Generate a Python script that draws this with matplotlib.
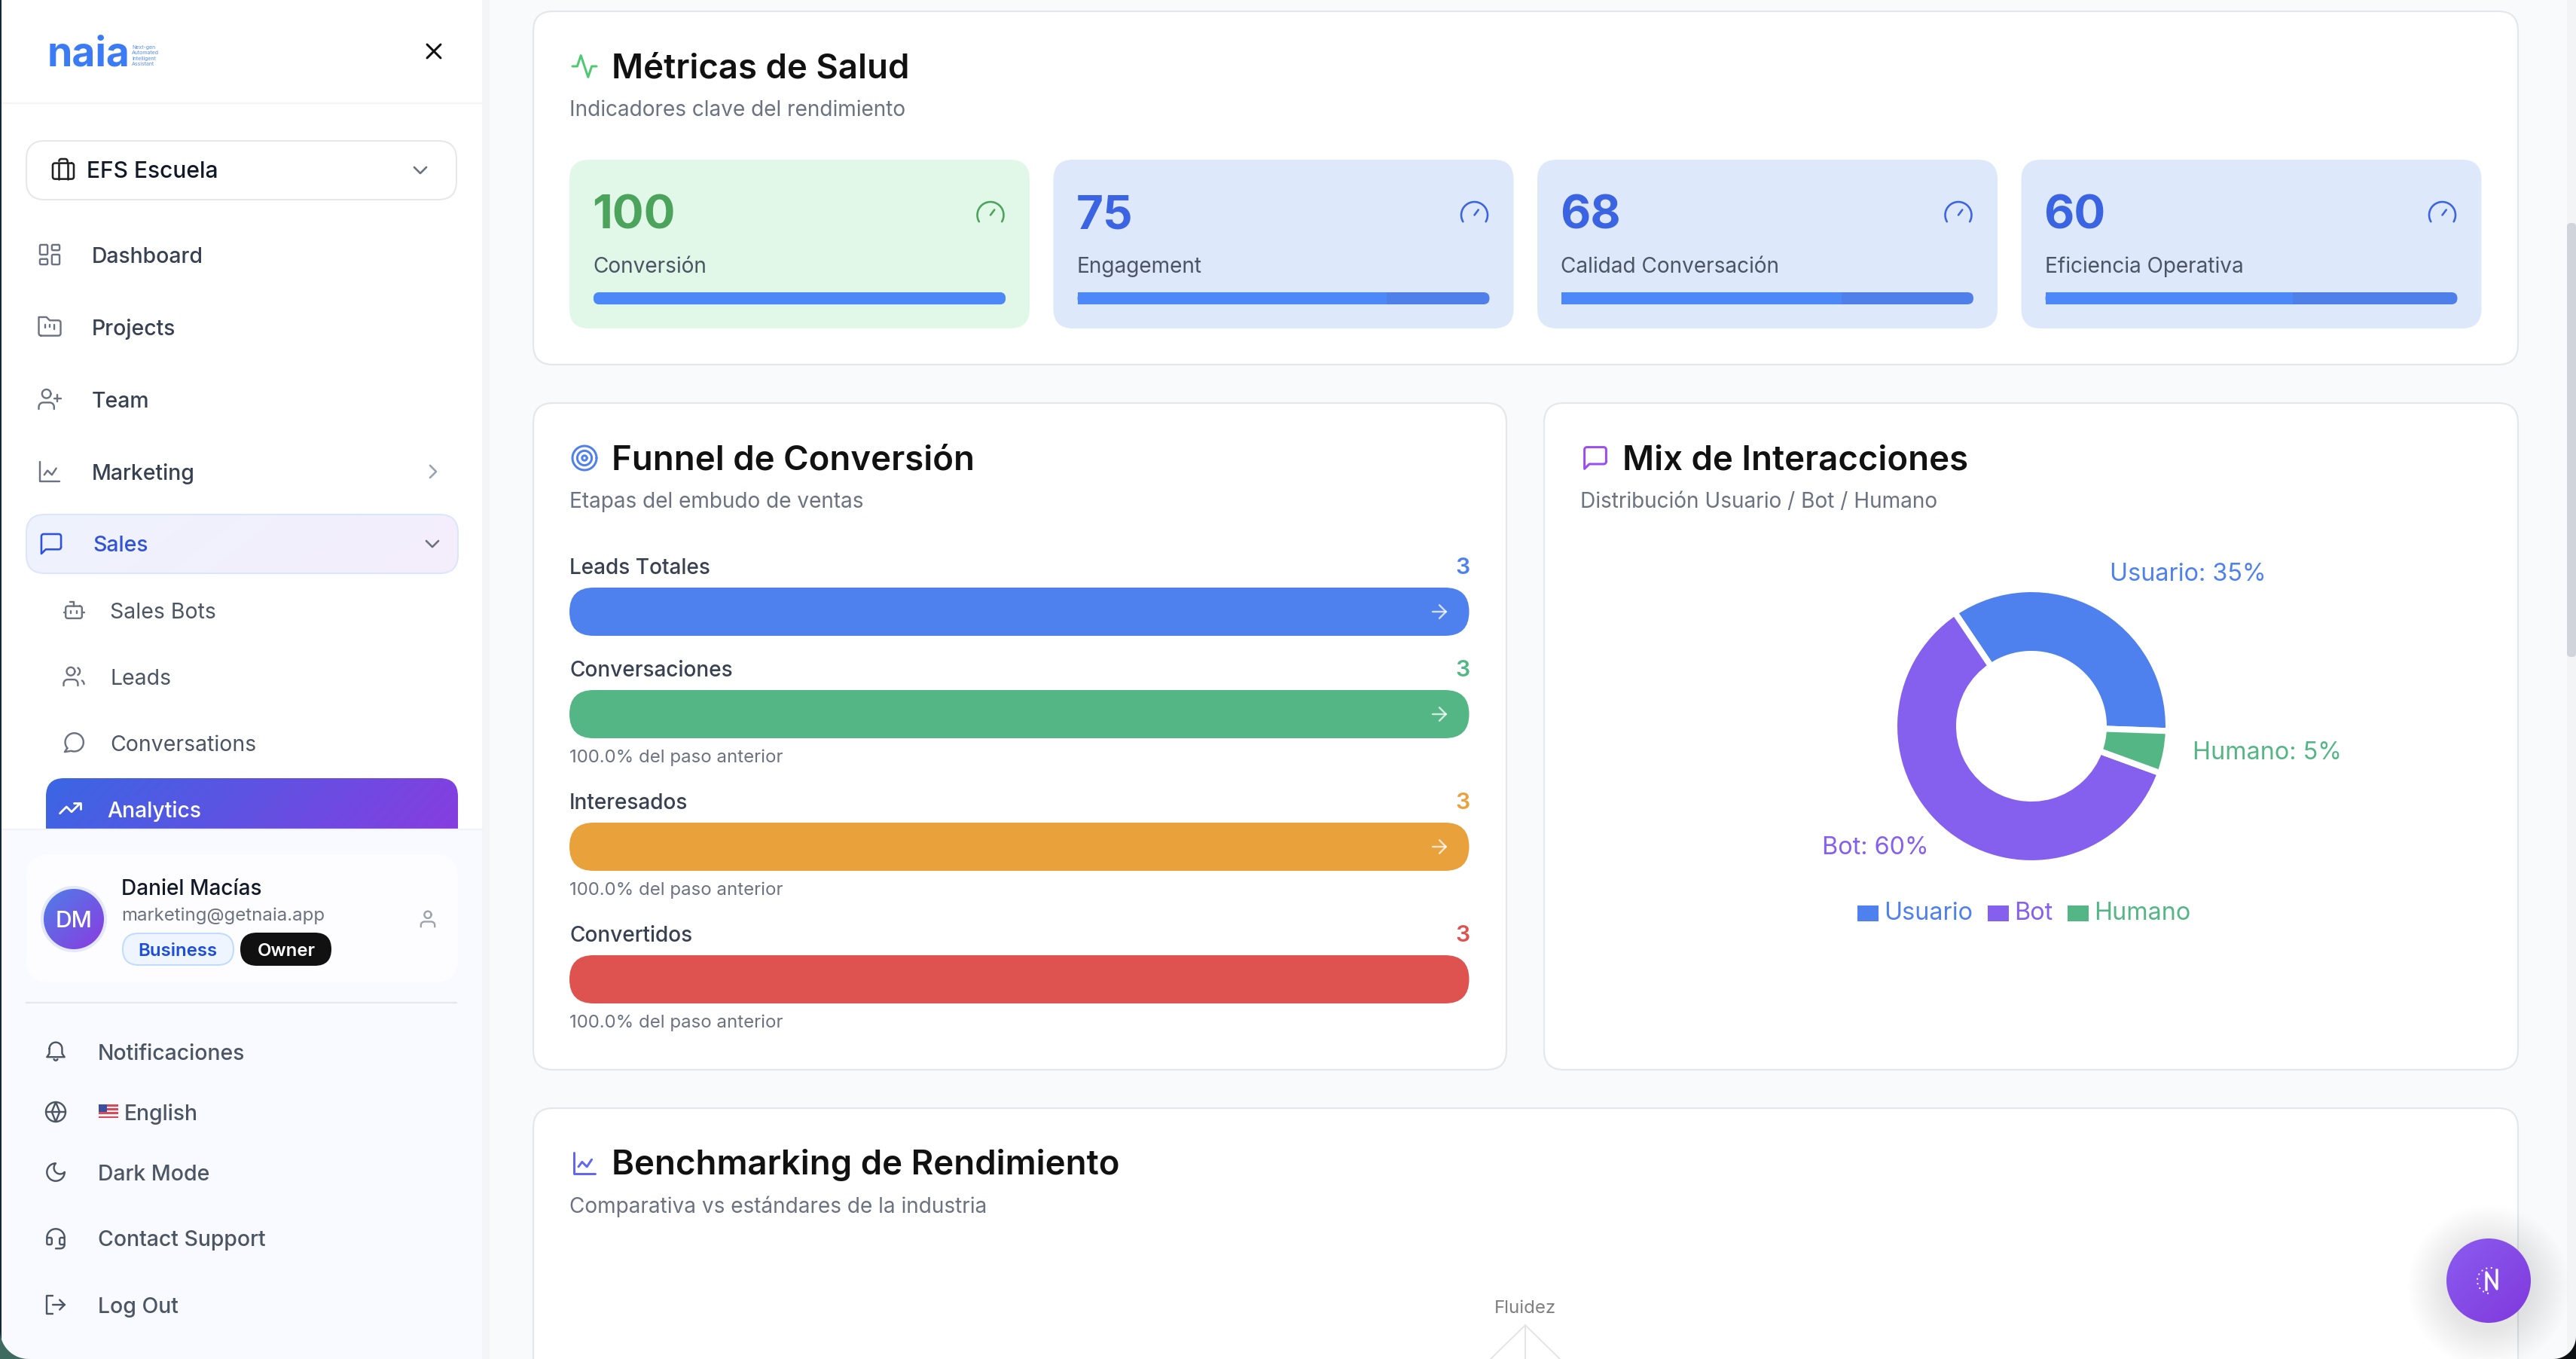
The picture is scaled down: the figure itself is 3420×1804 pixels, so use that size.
import numpy as np
import matplotlib
matplotlib.use('Agg')
import matplotlib.pyplot as plt
from matplotlib.patches import FancyBboxPatch, Rectangle, Circle, Polygon
from matplotlib.colors import LinearSegmentedColormap

plt.rcParams['font.family'] = ['Inter', 'DejaVu Sans']

# chart values
metric_labels = ['Conversión', 'Engagement', 'Calidad Conversación', 'Eficiencia Operativa']
metric_values = [100, 75, 68, 60]
funnel_stages = ['Leads Totales', 'Conversaciones', 'Interesados', 'Convertidos']
funnel_counts = [3, 3, 3, 3]
funnel_notes = [None, '100.0% del paso anterior', '100.0% del paso anterior', '100.0% del paso anterior']
mix_labels = ['Usuario', 'Bot', 'Humano']
mix_shares = [35, 60, 5]

nav_main = ['Dashboard', 'Projects', 'Team', 'Marketing']
nav_sales = ['Sales Bots', 'Leads', 'Conversations']
nav_bottom = ['Notificaciones', 'Dark Mode', 'Contact Support', 'Log Out']

W, H = 3420, 1804
BLUE, GREEN, ORANGE, RED, PURPLE = '#4f81ee', '#54b685', '#e9a13b', '#de524f', '#8560ef'

fig = plt.figure(figsize=(W / 100, H / 100), dpi=100)
ax = fig.add_axes([0, 0, 1, 1])
ax.set_xlim(0, W)
ax.set_ylim(H, 0)
ax.axis('off')


def t(x, y, s, px, color, weight=400, ha='left', va='baseline', **kw):
    return ax.text(x, y, s, fontsize=px * 0.72, color=color, fontweight=weight, ha=ha, va=va, zorder=10, **kw)


def box(x, y, w, h, r, fc, ec='none', lw=0, z=2):
    p = FancyBboxPatch((x + r, y + r), w - 2 * r, h - 2 * r, boxstyle=f'round,pad={r},rounding_size={r}',
                       fc=fc, ec=ec, lw=lw * 0.72, zorder=z)
    ax.add_patch(p)
    return p


def grad(x, y, w, h, r, c0, c1, z=3, ec='none', lw=0):
    p = box(x, y, w, h, r, 'none', z=z)
    cmap = LinearSegmentedColormap.from_list('g', [c0, c1])
    gx, gy = np.meshgrid(np.linspace(0, 1, 128), np.linspace(0, 1, 64))
    im = ax.imshow(gx * 0.85 + gy * 0.15, cmap=cmap, extent=(x, x + w, y + h, y), aspect='auto', zorder=z, vmin=0, vmax=1)
    im.set_clip_path(p)
    ax.set_xlim(0, W)
    ax.set_ylim(H, 0)
    if lw:
        box(x, y, w, h, r, 'none', ec=ec, lw=lw, z=z + 0.1)


def arc(cx, cy, r, a0, a1, n=40):
    a = np.radians(np.linspace(a0, a1, n))
    return np.column_stack([cx + r * np.cos(a), cy + r * np.sin(a)])


def rr(x, y, w, h, r):
    return np.vstack([arc(x + w - r, y + r, r, -90, 0, 8), arc(x + w - r, y + h - r, r, 0, 90, 8),
                      arc(x + r, y + h - r, r, 90, 180, 8), arc(x + r, y + r, r, 180, 270, 8),
                      [[x + w - r, y]]])


def pl(*pts):
    return np.array(pts, dtype=float)


def icon(cx, cy, paths, s, color, lw=2.6, alpha=1):
    # paths are on a 24x24 grid like the usual svg icon sets
    for p in paths:
        ax.plot(cx + (p[:, 0] - 12) * s, cy + (p[:, 1] - 12) * s, color=color, lw=lw * 0.72, alpha=alpha,
                solid_capstyle='round', solid_joinstyle='round', zorder=11)


ACTIVITY = [pl((22, 12), (18, 12), (15, 21), (9, 3), (6, 12), (2, 12))]
GAUGE = [arc(12, 14, 10, 150, 390), pl((12, 14), (15, 10))]
TARGET = [arc(12, 12, 10, 0, 360), arc(12, 12, 6, 0, 360), arc(12, 12, 2, 0, 360)]
CHAT = [np.vstack([arc(19, 15, 2, 0, 90, 6), pl((7, 17), (3, 21), (3, 5)), arc(5, 5, 2, 180, 270, 6),
                   arc(19, 5, 2, 270, 360, 6), pl((21, 15))])]
LINECHART = [pl((3, 3), (3, 21), (21, 21)), pl((7, 15), (10, 11), (14, 15), (18, 9))]
ARROW = [pl((5, 12), (19, 12)), pl((12, 5), (19, 12), (12, 19))]
GRID = [rr(3, 3, 7, 9, 1), rr(14, 3, 7, 5, 1), rr(14, 12, 7, 9, 1), rr(3, 16, 7, 5, 1)]
FOLDER = [np.vstack([pl((4, 20)), arc(4, 18, 2, 90, 180, 5), pl((2, 3), (9, 3), (12, 6), (20, 6)),
                     arc(20, 8, 2, -90, 0, 5), arc(20, 18, 2, 0, 90, 5), pl((4, 20))]),
          pl((8, 10), (8, 13)), pl((12, 10), (12, 12)), pl((16, 10), (16, 14))]
USERPLUS = [arc(9, 7, 4, 0, 360), np.vstack([pl((2, 21), (2, 19)), arc(6, 19, 4, 180, 270, 8), arc(12, 19, 4, 270, 360, 8), pl((16, 21))]),
            pl((19, 8), (19, 14)), pl((22, 11), (16, 11))]
BOT = [rr(4, 8, 16, 12, 2), pl((12, 8), (12, 4), (8, 4)), pl((2, 14), (4, 14)), pl((20, 14), (22, 14)),
       pl((15, 13), (15, 15)), pl((9, 13), (9, 15))]
USERS = [arc(9, 7, 4, 0, 360), np.vstack([pl((2, 21), (2, 19)), arc(6, 19, 4, 180, 270, 8), arc(12, 19, 4, 270, 360, 8), pl((16, 21))]),
         arc(14, 7, 4, -60, 60, 10), arc(18, 19.5, 4, -60, 0, 8)]
BUBBLE = [np.vstack([arc(12.5, 11.5, 9, 140, 470), pl((3, 21), (5.6, 17.2))])]
TREND = [pl((22, 7), (13.5, 15.5), (8.5, 10.5), (2, 17)), pl((16, 7), (22, 7), (22, 13))]
BRIEFCASE = [rr(2, 6, 20, 15, 2), pl((8, 21), (8, 6)), pl((16, 21), (16, 6)), np.vstack([arc(10, 4, 2, 180, 270, 5), arc(14, 4, 2, 270, 360, 5), pl((16, 6))])]
CROSS = [pl((18, 6), (6, 18)), pl((6, 6), (18, 18))]
DOWN = [pl((6, 9), (12, 15), (18, 9))]
RIGHT = [pl((9, 6), (15, 12), (9, 18))]
BELL = [np.vstack([arc(12, 9, 6.5, 180, 360), pl((18.5, 14), (21, 17.5), (3, 17.5), (5.5, 14), (5.5, 9))]), arc(12, 19, 2, 20, 160, 8)]
GLOBE = [arc(12, 12, 10, 0, 360), pl((2, 12), (22, 12)), np.vstack([pl((12, 2), (16, 12), (12, 22), (8, 12), (12, 2))])]
MOON = [np.vstack([arc(12, 12, 9, 0, 270), arc(16.5, 7.5, 6.36, 225, 45)])]
HEADSET = [arc(12, 12, 9, 180, 360), rr(3, 12, 5, 7, 1.5), rr(16, 12, 5, 7, 1.5), np.vstack([arc(17, 19, 4, 0, 90, 8), pl((12, 23))])]
LOGOUT = [pl((9, 21), (3, 21), (3, 3), (9, 3)), pl((16, 17), (21, 12), (16, 7)), pl((21, 12), (9, 12))]
USER = [arc(12, 7, 4, 0, 360), np.vstack([pl((4, 21), (4, 19)), arc(8, 19, 4, 180, 270, 8), arc(16, 19, 4, 270, 360, 8), pl((20, 21))])]

# page background
ax.add_patch(Rectangle((0, 0), W, H, fc='#f9fafb', ec='none', zorder=0))
ax.add_patch(Rectangle((640, 0), 10, H, fc='#f4f5f7', ec='none', zorder=1))
ax.add_patch(Rectangle((3408, 0), 12, H, fc='#f3f4f6', ec='none', zorder=1))
box(3408, 296, 12, 576, 5, '#d1d5db')


def card(x, y, w, h, title, sub, ico, ico_color):
    box(x, y, w, h, 26, '#ffffff', ec='#e5e7eb', lw=2.2)
    icon(x + 68, y + 73, ico, 1.6, ico_color, 3)
    t(x + 104, y + 88.5, title, 45.5, '#111111', 600)
    t(x + 48, y + 139, sub, 28, '#6b7280')


# health metrics
card(708, 15, 2635, 469, 'Métricas de Salud', 'Indicadores clave del rendimiento', ACTIVITY, '#4fc873')
card_x = [756, 1398.5, 2041, 2683.5]
for i, (lab, val) in enumerate(zip(metric_labels, metric_values)):
    x = card_x[i]
    good = val >= 100
    box(x, 212, 611, 224, 26, '#e1f8e9' if good else '#dee8fb')
    num = '#4ba35c' if good else '#3b64e3'
    t(x + 30, 303, str(val), 62, num, 700)
    icon(x + 559, 282, GAUGE, 1.75, num, 2.6)
    t(x + 31, 362, lab, 28, '#4b5563')
    box(x + 32, 388, 547, 16, 8, '#4f80ea', z=3)
    # the lighter part is the value, the rest is the track
    bar_w = 547 * val / 100
    ax.add_patch(FancyBboxPatch((x + 40, 396), max(bar_w - 16, 1), 0.1, boxstyle='round,pad=8,rounding_size=8' if val >= 100 else 'square,pad=8',
                                fc='#4c88f8', ec='none', zorder=3.1))

# funnel
card(708, 535, 1292, 885, 'Funnel de Conversión', 'Etapas del embudo de ventas', TARGET, BLUE)
bar_tops = [780, 916, 1092, 1268]
bar_colors = [BLUE, GREEN, ORANGE, RED]
for i, stage in enumerate(funnel_stages):
    y = bar_tops[i]
    t(756, y - 18, stage, 28, '#374151', 500)
    t(1951, y - 18, str(funnel_counts[i]), 30, bar_colors[i], 600, ha='right')
    bar_w = 1194.5 * funnel_counts[i] / max(funnel_counts)
    box(756, y, bar_w, 64, 32, bar_colors[i], z=3)
    if i < len(funnel_stages) - 1:
        icon(1911, y + 32, ARROW, 1.25, '#ffffff', 2.4, alpha=0.75)
    if funnel_notes[i]:
        t(756, y + 96, funnel_notes[i], 24, '#6b7280')

# interaction mix
card(2050, 535, 1293, 885, 'Mix de Interacciones', 'Distribución Usuario / Bot / Humano', CHAT, '#9a4df0')
R = 182
margin = 1.1
size = 2 * R * margin
dcx, dcy = 2697, 964
ax_d = fig.add_axes([(dcx - size / 2) / W, 1 - (dcy + size / 2) / H, size / W, size / H], zorder=5)
mix_colors = [BLUE, PURPLE, GREEN]
ax_d.pie(mix_shares, colors=mix_colors, startangle=-2, counterclock=True, radius=1,
         wedgeprops=dict(width=86 / R, edgecolor='white', linewidth=5.8))
ax_d.set_xlim(-margin, margin)
ax_d.set_ylim(-margin, margin)
ax_d.patch.set_alpha(0)
t(2801, 771, f'{mix_labels[0]}: {mix_shares[0]}%', 32.4, mix_colors[0])
t(2911, 1008, f'{mix_labels[2]}: {mix_shares[2]}%', 32.4, mix_colors[2])
t(2419, 1134, f'{mix_labels[1]}: {mix_shares[1]}%', 32.4, mix_colors[1])
for lab, col, sx in zip(mix_labels, mix_colors, [2466, 2639, 2745]):
    ax.add_patch(Rectangle((sx, 1202), 28, 21, fc=col, ec='none', zorder=3))
    t(sx + 35, 1221, lab, 32.4, col)

# benchmarking, the radar is cut by the window
card(708, 1471, 2635, 500, 'Benchmarking de Rendimiento', 'Comparativa vs estándares de la industria', LINECHART, '#6366f1')
t(2025, 1743, 'Fluidez', 24, '#7f7f7f', ha='center')
ax.plot([1979, 2025, 2071], [1804, 1759, 1804], color='#e4e4e4', lw=1.4, zorder=3)
ax.plot([2025, 2025], [1759, 1804], color='#e4e4e4', lw=1.4, zorder=3)

# chat button
for rad in np.linspace(108, 58, 26):
    ax.add_patch(Circle((3304, 1708), rad, fc='#4b4b78', ec='none', alpha=0.0035, zorder=6))
p = Circle((3304, 1700), 56, fc='none', ec='none', zorder=7)
ax.add_patch(p)
cm = LinearSegmentedColormap.from_list('f', ['#8b5cf0', '#8039dc'])
gx, gy = np.meshgrid(np.linspace(0, 1, 64), np.linspace(0, 1, 64))
im = ax.imshow((gx + gy) / 2, cmap=cm, extent=(3248, 3360, 1756, 1644), aspect='auto', zorder=7)
im.set_clip_path(p)
ax.set_xlim(0, W)
ax.set_ylim(H, 0)
ax.plot([3301, 3301, 3315, 3315], [1712, 1689, 1711, 1686], color='white', lw=2.4, zorder=8, solid_joinstyle='round')
for a in np.arange(100, 290, 22):
    d = arc(3306, 1700, 17, a, a, 1)
    ax.add_patch(Circle((d[0, 0], d[0, 1]), 1.1, fc='white', ec='none', zorder=8))

# sidebar
ax.add_patch(Rectangle((0, 0), 640, H, fc='#ffffff', ec='none', zorder=4))
ax.plot([0, 640], [137, 137], color='#f3f4f6', lw=1.6, zorder=5)
ax.text(63, 87, 'naia', fontsize=38.5, color='#3b7bf6', fontweight=700, zorder=10)
for j, s in enumerate(['Next-gen', 'Automated', 'Intelligent', 'Assistant']):
    t(175, 65 + j * 7.4, s, 7, '#5b8ef7')
icon(576, 68, CROSS, 1.5, '#111111', 3)

box(35, 187, 571, 78, 24, '#ffffff', ec='#e5e7eb', lw=2, z=5)
icon(84, 225, BRIEFCASE, 1.4, '#222222', 2.6)
t(115, 236, 'EFS Escuela', 30, '#111827', 500)
icon(558, 226, DOWN, 1.35, '#6b7280', 2.6)

nav_y = [349, 445, 541, 637]
nav_icons = [GRID, FOLDER, USERPLUS, LINECHART]
for lab, y, ico in zip(nav_main, nav_y, nav_icons):
    t(122, y, lab, 28.4, '#374151', 500)
    icon(66, y - 11, ico, 1.45, '#6b7280', 2.4)
icon(575, 626, RIGHT, 1.35, '#9ca3af', 2.6)

grad(35, 683, 573, 78, 24, '#eef3fe', '#f5edfc', z=5, ec='#dbe5fb', lw=2)
t(123, 732, 'Sales', 28.4, '#2f52d8', 500)
icon(68, 722, CHAT, 1.45, '#2f52d8', 2.6)
icon(574, 722, DOWN, 1.35, '#6b7280', 2.6)

for lab, y, ico in zip(nav_sales, [821, 909, 997], [BOT, USERS, BUBBLE]):
    t(146, y, lab, 28.4, '#4b5563', 400)
    icon(98, y - 11, ico, 1.35, '#6b7280', 2.4)

grad(61, 1033, 547, 110, 24, '#3a66e4', '#8b3be0', z=5)
t(142, 1085, 'Analytics', 28.4, '#ffffff', 500)
icon(93, 1073, TREND, 1.35, '#ffffff', 2.8)

# bottom of sidebar
ax.add_patch(Rectangle((0, 1101), 640, H - 1101, fc='#f8faff', ec='none', zorder=6))
ax.plot([0, 640], [1101, 1101], color='#f1f2f6', lw=1.6, zorder=6)
box(35, 1134, 573, 170, 30, '#fdfdff', z=7)
ax.add_patch(Circle((98, 1220), 44, fc='#e3e9fb', ec='none', zorder=8))
pc = Circle((98, 1220), 40, fc='none', ec='none', zorder=8.5)
ax.add_patch(pc)
cm2 = LinearSegmentedColormap.from_list('a', ['#4f7ee8', '#8b3be0'])
gx, gy = np.meshgrid(np.linspace(0, 1, 64), np.linspace(0, 1, 64))
im = ax.imshow((gx + gy) / 2, cmap=cm2, extent=(58, 138, 1260, 1180), aspect='auto', zorder=8.5)
im.set_clip_path(pc)
ax.set_xlim(0, W)
ax.set_ylim(H, 0)
t(98, 1231, 'DM', 30, '#ffffff', 500, ha='center')
t(161, 1188, 'Daniel Macías', 28, '#111827', 500)
t(161, 1222, 'marketing@getnaia.app', 24, '#6b7280')
box(163, 1239, 147, 42, 21, '#eff5ff', ec='#bfdbfe', lw=2, z=8)
t(236, 1269, 'Business', 24, '#1d4ed8', 600, ha='center')
box(319, 1238, 121, 44, 22, '#111111', z=8)
t(380, 1269, 'Owner', 24, '#ffffff', 600, ha='center')
icon(568, 1220, USER, 1.15, '#9ca3af', 2.4)
ax.plot([35, 606], [1331, 1331], color='#e5e7eb', lw=1.6, zorder=8)

for lab, y, ico in zip(nav_bottom, [1396, 1556, 1643, 1732], [BELL, MOON, HEADSET, LOGOUT]):
    t(130, y + 11, lab, 28.4, '#4b5563', 500)
    icon(74, y, ico, 1.3, '#4b5563', 2.4)
t(165, 1487, 'English', 28.4, '#4b5563', 500)
icon(74, 1476, GLOBE, 1.3, '#4b5563', 2.4)
# flag
for k in range(7):
    ax.add_patch(Rectangle((131, 1466 + k * 2.6), 26, 2.6, fc='#d9495a' if k % 2 == 0 else '#f3f3f3', ec='none', zorder=9))
ax.add_patch(Rectangle((131, 1466), 11, 10, fc='#3c4f9e', ec='none', zorder=9.1))

# window edge and rounded corners
ax.add_patch(Rectangle((0, 0), 2, H, fc='#14283c', ec='none', zorder=20))
bl = np.vstack([[[0, H]], arc(38, H - 38, 38, 180, 90, 16)])
br = np.vstack([[[W, H]], arc(W - 30, H - 30, 30, 0, 90, 16)])
ax.add_patch(Polygon(bl, fc='#3f6a60', ec='none', zorder=20))
ax.add_patch(Polygon(br, fc='#0c1013', ec='none', zorder=20))

fig.savefig('out.png', dpi=100)
